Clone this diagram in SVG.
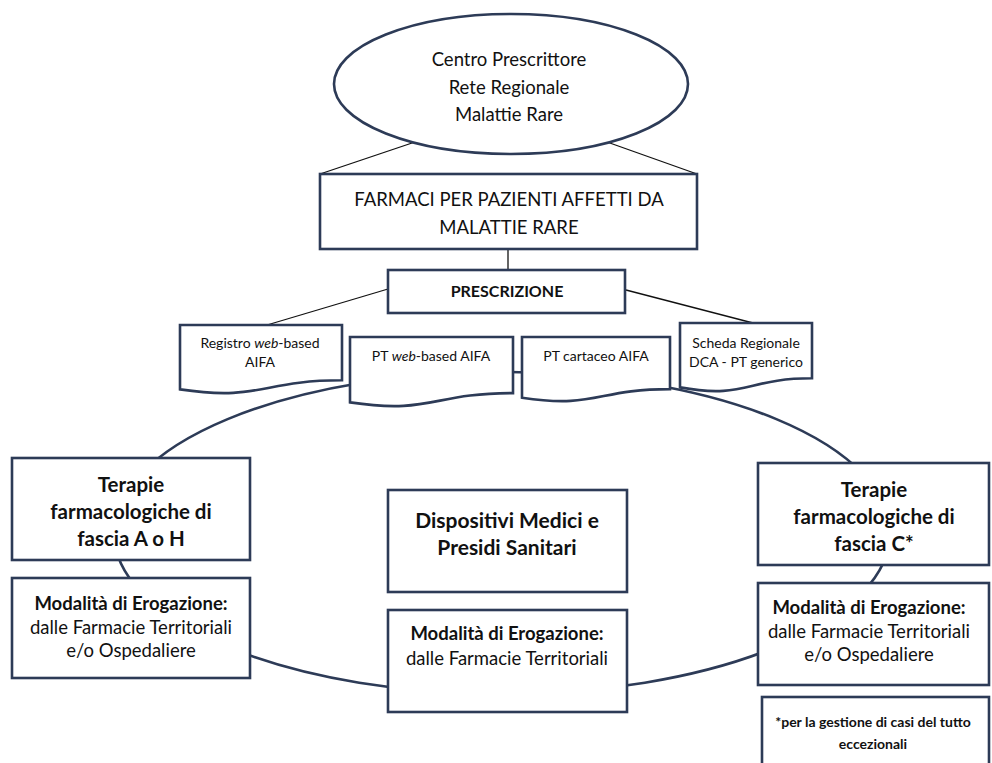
<svg xmlns="http://www.w3.org/2000/svg" width="992" height="763" viewBox="0 0 992 763">
<style>
.box{fill:#fff;stroke:#2d3b57;stroke-width:2.6}
.ring{fill:none;stroke:#2d3b57;stroke-width:2.6}
.thin{fill:none;stroke:#111;stroke-width:1.3}
text{font-family:Lato,"Liberation Sans",sans-serif;fill:#111;text-anchor:middle}
.b{font-weight:bold}
.t18{font-size:18.5px}
.t17{font-size:18.5px}
.t19{font-size:20.5px}
.t21{font-size:21px}
.t16{font-size:16px}
.t13{font-size:14px}
.t12{font-size:14px}
</style>
<rect width="992" height="763" fill="#fff"/>
<g id="connectors">
<ellipse class="ring" cx="502" cy="533" rx="388" ry="161"/>
<line class="thin" x1="415" y1="142" x2="320" y2="174"/>
<line class="thin" x1="607" y1="142" x2="697" y2="174"/>
<line class="thin" x1="508" y1="249" x2="508" y2="270"/>
<line class="thin" x1="388" y1="289" x2="267" y2="325"/>
<line class="thin" x1="626" y1="290" x2="753" y2="323"/>
</g>
<g id="centro">
<ellipse class="box" cx="511" cy="84" rx="177" ry="70"/>
<text class="t18" x="509" y="66">Centro Prescrittore</text>
<text class="t18" x="509" y="94">Rete Regionale</text>
<text class="t18" x="509" y="121">Malattie Rare</text>
</g>
<g id="farmaci">
<rect class="box" x="320" y="174" width="377" height="75"/>
<text class="t18" x="509" y="206">FARMACI PER PAZIENTI AFFETTI DA</text>
<text class="t18" x="509" y="234">MALATTIE RARE</text>
</g>
<g id="prescrizione">
<rect class="box" x="388" y="270" width="237" height="43"/>
<text class="t16 b" x="507" y="297">PRESCRIZIONE</text>
</g>
<g id="registro">
<path class="box" d="M180,325 H342 V380.3 C261,380.3 261,401.4 180,389.4 Z"/>
<text class="t13" x="260" y="348">Registro <tspan font-style="italic">web</tspan>-based</text>
<text class="t13" x="260" y="367">AIFA</text>
</g>
<g id="ptweb">
<path class="box" d="M350,337 H513 V393.1 C431.5,393.1 431.5,414.5 350,402.4 Z"/>
<text class="t13" x="431" y="361">PT <tspan font-style="italic">web</tspan>-based AIFA</text>
</g>
<g id="ptcartaceo">
<path class="box" d="M522,337 H670 V389.1 C596,389.1 596,408.9 522,397.7 Z"/>
<text class="t13" x="596" y="361">PT cartaceo AIFA</text>
</g>
<g id="scheda">
<path class="box" d="M680,323 H812 V378.3 C746,378.3 746,399.4 680,387.4 Z"/>
<text class="t13" x="746" y="348">Scheda Regionale</text>
<text class="t13" x="746" y="367">DCA - PT generico</text>
</g>
<g id="terapie-a">
<rect class="box" x="12" y="458" width="238" height="102"/>
<text class="t19 b" x="131" y="492">Terapie</text>
<text class="t19 b" x="131" y="519">farmacologiche di</text>
<text class="t19 b" x="131" y="546">fascia A o H</text>
</g>
<g id="modalita-a">
<rect class="box" x="12" y="578" width="238" height="100"/>
<text class="t17 b" x="131" y="610">Modalità di Erogazione:</text>
<text class="t17" x="131" y="634">dalle Farmacie Territoriali</text>
<text class="t17" x="131" y="657">e/o Ospedaliere</text>
</g>
<g id="dispositivi">
<rect class="box" x="388" y="490" width="239" height="102"/>
<text class="t21 b" x="507" y="528">Dispositivi Medici e</text>
<text class="t21 b" x="507" y="555">Presidi Sanitari</text>
</g>
<g id="modalita-mid">
<rect class="box" x="388" y="610" width="239" height="102"/>
<text class="t17 b" x="507" y="640">Modalità di Erogazione:</text>
<text class="t17" x="507" y="665">dalle Farmacie Territoriali</text>
</g>
<g id="terapie-c">
<rect class="box" x="758" y="463" width="231" height="102"/>
<text class="t19 b" x="874" y="497">Terapie</text>
<text class="t19 b" x="874" y="524">farmacologiche di</text>
<text class="t19 b" x="874" y="551">fascia C*</text>
</g>
<g id="modalita-c">
<rect class="box" x="758" y="583" width="231" height="102"/>
<text class="t17 b" x="869" y="614">Modalità di Erogazione:</text>
<text class="t17" x="869" y="638">dalle Farmacie Territoriali</text>
<text class="t17" x="869" y="661">e/o Ospedaliere</text>
</g>
<g id="nota">
<rect class="box" x="762" y="697" width="227" height="70"/>
<text class="t12 b" x="873" y="727">*per la gestione di casi del tutto</text>
<text class="t12 b" x="873" y="749">eccezionali</text>
</g>
</svg>
